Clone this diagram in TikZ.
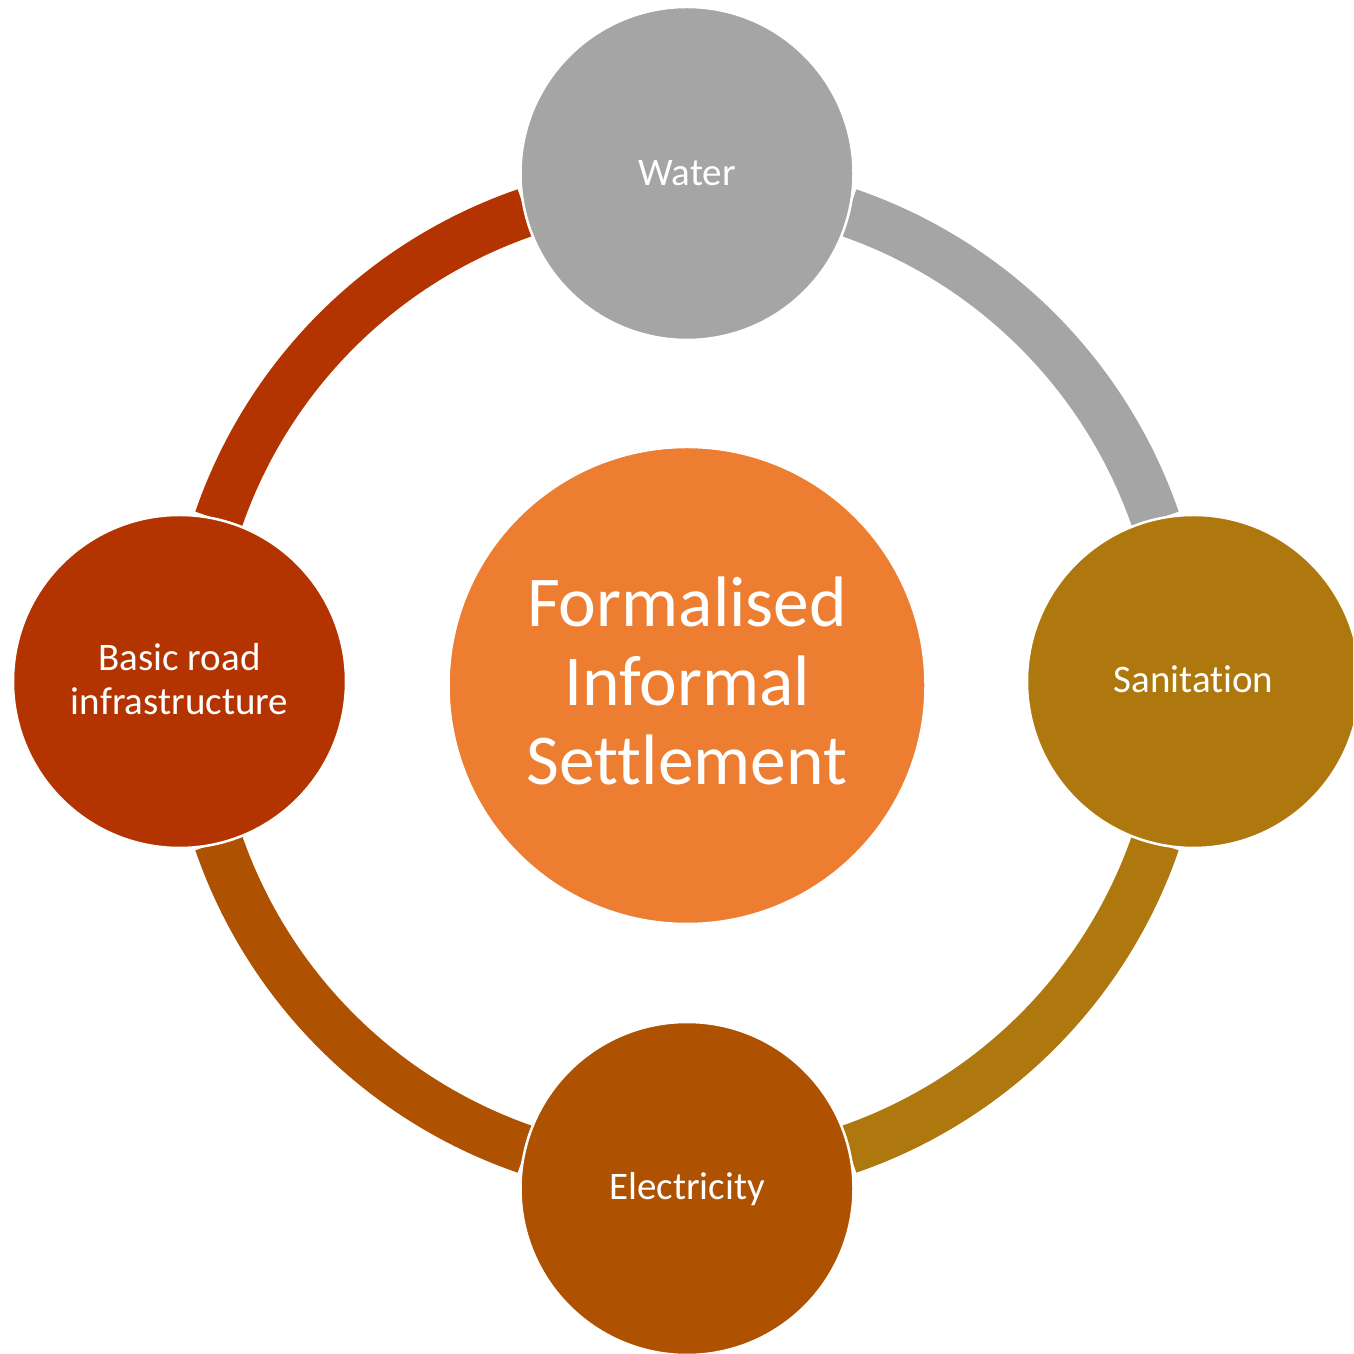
\documentclass[tikz,border=0pt]{standalone}
\usepackage{fontspec}
\setmainfont{Carlito}[Ligatures=NoCommon]
\definecolor{cWater}{HTML}{A5A5A5}
\definecolor{cSan}{HTML}{AE780E}
\definecolor{cElec}{HTML}{AE5100}
\definecolor{cRoad}{HTML}{B33400}
\definecolor{cCenter}{HTML}{ED7D31}
\begin{document}
\begin{tikzpicture}[x=1pt,y=1pt,
  ringseg/.style={line width=49pt, line cap=butt},
  outer/.style={circle, draw=white, line width=2.5pt, minimum size=333pt, inner sep=0pt},
  inner/.style={circle, draw=white, line width=2.5pt, minimum size=477pt, inner sep=0pt},
  smalltxt/.style={text=white, font=\fontsize{39}{44}\selectfont, anchor=base, inner sep=0pt},
  bigtxt/.style={text=white, font=\fontsize{71.5}{79}\selectfont, anchor=base, inner sep=0pt}]
\useasboundingbox (0,0) rectangle (1353,1354);
\clip (0,0) rectangle (1353,1354);
\coordinate (O) at (687,673);
% ring segments
\draw[ringseg, cRoad]  ([shift={(109:495.5)}]O) arc[start angle=109, end angle=161, radius=495.5];
\draw[ringseg, cWater] ([shift={(19:495.5)}]O) arc[start angle=19, end angle=71, radius=495.5];
\draw[ringseg, cSan]   ([shift={(-71:495.5)}]O) arc[start angle=-71, end angle=-19, radius=495.5];
\draw[ringseg, cElec]  ([shift={(199:495.5)}]O) arc[start angle=199, end angle=251, radius=495.5];
% circles
\node[inner, fill=cCenter] (center) at (687,668.5) {};
\node[outer, fill=cWater] (water) at (687,1180.5) {};
\node[outer, fill=cSan] (san) at (1193.5,672.5) {};
\node[outer, fill=cElec] (elec) at (687,165.5) {};
\node[outer, fill=cRoad] (road) at (179.5,672.5) {};
% texts
\node[bigtxt] (c1) at (687,727) {Formalised};
\node[bigtxt] (c2) at (687,648) {Informal};
\node[bigtxt] (c3) at (687,569) {Settlement};
\node[smalltxt] (tw) at (687,1168) {Water};
\node[smalltxt] (ts) at (1193.5,661) {Sanitation};
\node[smalltxt] (te) at (687,154) {Electricity};
\node[smalltxt] (tr1) at (179.5,683) {Basic road};
\node[smalltxt] (tr2) at (179.5,639) {infrastructure};
\end{tikzpicture}
\end{document}
